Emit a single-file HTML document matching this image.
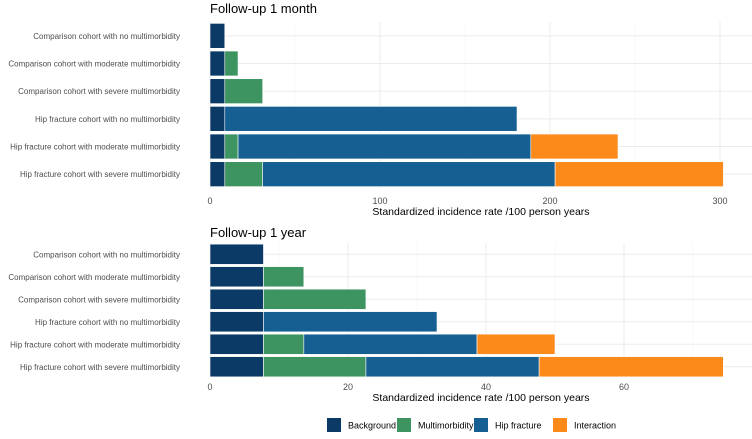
<!DOCTYPE html>
<html><head><meta charset="utf-8"><style>
body{margin:0;background:#fff;font-family:"Liberation Sans",sans-serif}
svg text{font-family:"Liberation Sans",sans-serif}
</style></head><body>
<svg id="c" width="752" height="434" xmlns="http://www.w3.org/2000/svg"></svg>
<script>
const categories=["Comparison cohort with no multimorbidity","Comparison cohort with moderate multimorbidity","Comparison cohort with severe multimorbidity","Hip fracture cohort with no multimorbidity","Hip fracture cohort with moderate multimorbidity","Hip fracture cohort with severe multimorbidity"];
const seriesNames=["Background","Multimorbidity","Hip fracture","Interaction"];
const colors=["#0b3a66","#3d9461","#155f93","#fb8a1b"];
const m1Background=[8.7,8.7,8.7,8.7,8.7,8.7];
const m1Multimorbidity=[0,7.8,22.3,0,7.8,22.3];
const m1HipFracture=[0,0,0,171.9,172.2,172];
const m1Interaction=[0,0,0,0,51.3,99];
const m1Ticks=[0,100,200,300];
const y1Background=[7.75,7.75,7.75,7.75,7.75,7.75];
const y1Multimorbidity=[0,5.85,14.85,0,5.85,14.85];
const y1HipFracture=[0,0,0,25.15,25.1,25.1];
const y1Interaction=[0,0,0,0,11.3,26.7];
const y1Ticks=[0,20,40,60];
const svg=document.getElementById('c');
const NS="http://www.w3.org/2000/svg";
function el(t,a,p){const e=document.createElementNS(NS,t);for(const k in a)e.setAttribute(k,a[k]);(p||svg).appendChild(e);return e;}
function panel(name,title,series,ticks,scale,top,bottom,titleY,tickY,axY){
  const g=el('g',{});
  
  
  const x=v=>210+v*scale;
  const n=categories.length,step=(bottom-top)/n,bh=step*0.9;
  for(let i=0;i<ticks.length;i++){
    el('line',{x1:x(ticks[i]),x2:x(ticks[i]),y1:top,y2:bottom,stroke:'#ebebeb','stroke-width':1},g);
    const mid=ticks[i]+(ticks[1]-ticks[0])/2; if(x(mid)<752) el('line',{x1:x(mid),x2:x(mid),y1:top,y2:bottom,stroke:'#f3f3f3','stroke-width':0.6},g);
    const t=el('text',{x:x(ticks[i]),y:tickY,'font-size':9,fill:'#4d4d4d','text-anchor':'middle'},g);t.textContent=ticks[i];
    
    
  }
  for(let r=0;r<n;r++){
    const cy=top+step*(r+0.5);
    el('line',{x1:210,x2:752,y1:cy,y2:cy,stroke:'#ebebeb','stroke-width':1},g);
    const lab=el('text',{x:180,y:cy+3,'font-size':8,fill:'#4d4d4d','text-anchor':'end'},g);lab.textContent=categories[r];
    
    
    let acc=0;
    for(let s=0;s<series.length;s++){
      const v=series[s][r]; if(v<=0) continue;
      const b=el('rect',{x:x(acc),y:cy-bh/2,width:v*scale,height:bh,fill:colors[s],stroke:'#fff','stroke-width':0.6},g);
      
      
      acc+=v;
    }
  }
  const tt=el('text',{x:210,y:titleY,'font-size':13,fill:'#000'},g);tt.textContent=title;
  
  
  const at=el('text',{x:481,y:axY,'font-size':10.5,fill:'#000','text-anchor':'middle'},g);at.textContent="Standardized incidence rate /100 person years";
  
  
}
panel('panel-1-month','Follow-up 1 month',[m1Background,m1Multimorbidity,m1HipFracture,m1Interaction],m1Ticks,1.70,22,188,13,204,215);
panel('panel-1-year','Follow-up 1 year',[y1Background,y1Multimorbidity,y1HipFracture,y1Interaction],y1Ticks,6.9,243,378,237,390,401);
const lx=[327,397,474,553];
for(let i=0;i<4;i++){
  const k=el('rect',{x:lx[i],y:418,width:14,height:14,fill:colors[i]});
  
  
  const t=el('text',{x:lx[i]+21,y:428.5,'font-size':9,fill:'#000'});t.textContent=seriesNames[i];
  
  
}
</script>
</body></html>
